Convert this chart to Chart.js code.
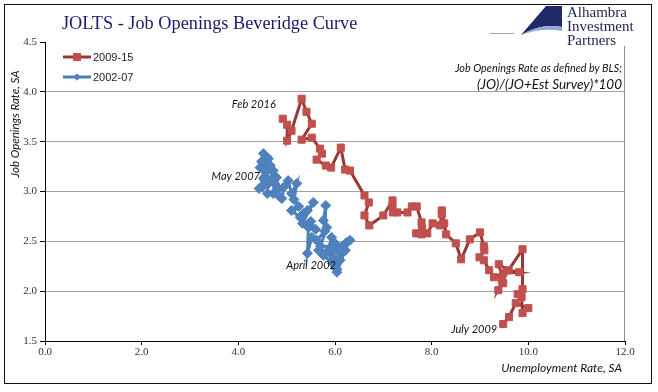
<!DOCTYPE html>
<html>
<head>
<meta charset="utf-8">
<script src="https://cdn.jsdelivr.net/npm/chart.js@4.4.1/dist/chart.umd.min.js"></script>
<style>
  html, body { margin: 0; padding: 0; background: #fff; }
  #wrap { position: relative; width: 658px; height: 392px; background: #fff; overflow: hidden; }
  #c { position: absolute; left: 0; top: 0; }
  .ov { position: absolute; white-space: nowrap; pointer-events: none; }
  #title { left: 62px; top: 11px; font-family: "Liberation Serif", serif; font-size: 18.3px; color: #1a1a6e; line-height: 24px; }
  #logoText { left: 567px; top: 5px; font-family: "Liberation Serif", serif; font-size: 15px; line-height: 14px; color: #1b2450; }
  #note1 { right: 36px; top: 61px; font-family: Lato, sans-serif; font-style: italic; font-size: 10.8px; color: #111; }
  #note2 { right: 36px; top: 76px; font-family: Lato, sans-serif; font-style: italic; font-size: 13.5px; color: #111; }
  #xTitle { right: 36px; top: 360px; font-family: Lato, sans-serif; font-style: italic; font-size: 12px; color: #111; }
  #yTitle { left: 14px; top: 124px; font-family: Lato, sans-serif; font-style: italic; font-size: 11.5px; color: #111; transform: translate(-50%, -50%) rotate(-90deg); }
  #frame { position: absolute; left: 4px; top: 4px; width: 646px; height: 378px; border: 1px solid #111; pointer-events: none; }
</style>
</head>
<body>
<div id="wrap">
  <canvas id="c" width="658" height="392"></canvas>
  <div class="ov" id="title">JOLTS - Job Openings Beveridge Curve</div>
  <svg class="ov" style="left:0;top:0" width="658" height="60">
    <line x1="490" y1="33.5" x2="514" y2="33.5" stroke="#a6a6a6" stroke-width="1"/>
    <rect x="514" y="4" width="50" height="42" fill="#fff"/>
    <path d="M546 6 L562 6 L562 27 Q541 23 521 35 Z" fill="#1f2a66"/>
    <path d="M521 35 Q541 23 562 27 L562 31 Q542 27 521 35 Z" fill="#8fa7d6"/>
  </svg>
  <div class="ov" id="logoText">Alhambra<br>Investment<br>Partners</div>
  <div class="ov" id="note1">Job Openings Rate as defined by BLS;</div>
  <div class="ov" id="note2">(JO)/(JO+Est Survey)*100</div>
  <div class="ov" id="xTitle">Unemployment Rate, SA</div>
  <div class="ov" id="yTitle">Job Openings Rate, SA</div>
  <div id="frame"></div>
</div>
<script>
// ---- Data ----
const seriesNames = ["2009-15", "2002-07"];

// 2009-15 (July 2009 -> Feb 2016): unemployment rate, job openings rate
const recoveryX = [9.48,9.60,9.74,10.00,9.88,9.86,9.78,9.88,9.88,9.45,9.38,9.48,9.39,9.59,9.81,9.48,9.29,9.19,9.08,8.99,9.09,9.08,9.00,8.79,8.61,8.50,8.30,8.26,8.21,8.21,8.17,8.02,7.91,7.79,7.68,7.80,7.79,7.69,7.59,7.50,7.29,7.20,7.19,7.19,7.00,6.71,6.61,6.70,6.61,6.31,6.21,6.12,5.92,5.81,5.62,5.73,5.69,5.52,5.31,5.52,5.41,5.31,5.10,5.01,5.01,4.92];
const recoveryY = [1.67,1.74,1.88,1.83,1.78,1.94,1.97,2.02,2.42,2.11,2.01,2.08,2.27,2.21,2.19,2.18,2.14,2.21,2.31,2.34,2.41,2.45,2.59,2.52,2.32,2.48,2.57,2.68,2.81,2.77,2.66,2.68,2.58,2.57,2.58,2.63,2.69,2.85,2.85,2.79,2.79,2.79,2.85,2.91,2.76,2.66,2.76,2.89,2.96,3.21,3.22,3.44,3.24,3.26,3.32,3.38,3.43,3.54,3.52,3.68,3.80,3.93,3.61,3.51,3.67,3.73];

// 2002-07 (April 2002 -> May 2007)
const expansionX = [6.04,5.97,5.90,6.10,5.95,5.76,5.66,5.85,5.93,6.00,6.21,6.04,6.10,6.05,6.24,6.31,6.21,6.15,6.10,5.97,5.70,5.83,5.76,5.81,5.79,5.62,5.52,5.43,5.45,5.60,5.50,5.33,5.55,5.43,5.35,5.28,5.10,5.25,5.15,5.21,5.10,5.03,4.95,4.90,4.85,4.83,4.79,4.75,4.72,4.60,4.62,4.72,4.68,4.52,4.50,4.43,4.58,4.66,4.55,4.62,4.48,4.52,4.45,4.55];
const expansionY = [2.22,2.33,2.38,2.31,2.28,2.36,2.41,2.40,2.54,2.48,2.41,2.19,2.31,2.42,2.49,2.51,2.41,2.45,2.38,2.45,2.45,2.64,2.71,2.86,2.60,2.51,2.54,2.38,2.64,2.62,2.70,2.68,2.89,2.81,2.78,2.74,2.81,2.85,2.92,3.08,2.98,3.11,3.05,2.93,2.95,3.03,3.14,3.08,2.98,2.98,3.08,3.21,3.12,3.13,3.05,3.03,3.20,3.26,3.28,3.33,3.30,3.38,3.24,3.15];

const xTicks = [0, 2, 4, 6, 8, 10, 12];
const yTicks = [1.5, 2.0, 2.5, 3.0, 3.5, 4.0, 4.5];

// point annotations: [series index, point index, text]
const pointLabels = [
  [0, recoveryX.length - 1, "Feb 2016"],
  [0, 0, "July 2009"],
  [1, expansionX.length - 1, "May 2007"],
  [1, 0, "April 2002"]
];
const labelOffsets = [[-7, -14], [-6, 5], [-5, 0], [-1, -4]];

const toPts = (xs, ys) => xs.map((x, i) => ({ x: x, y: ys[i] }));

const RED_LINE = "#993735", RED_MARK = "#C0504D";
const BLUE_LINE = "#4A7EBB", BLUE_MARK = "#4F81BD";

const overlay = {
  id: "overlay",
  afterDraw(chart) {
    const ctx = chart.ctx, ca = chart.chartArea;
    const xs = chart.scales.x, ys = chart.scales.y;
    ctx.save();
    ctx.strokeStyle = "#8c8c8c";
    ctx.lineWidth = 1;
    ctx.beginPath();
    ctx.moveTo(Math.round(ca.right) - 0.5, 46);
    ctx.lineTo(Math.round(ca.right) - 0.5, ca.bottom);
    ctx.stroke();

    const items = [
      { y: 57, line: RED_LINE, mark: RED_MARK, shape: "rect", r: 5 },
      { y: 77, line: BLUE_LINE, mark: BLUE_MARK, shape: "rectRot", r: 3.2 }
    ];
    items.forEach((it, i) => {
      ctx.strokeStyle = it.line;
      ctx.lineWidth = 3;
      ctx.beginPath();
      ctx.moveTo(63, it.y); ctx.lineTo(91, it.y);
      ctx.stroke();
      ctx.fillStyle = it.mark;
      ctx.strokeStyle = it.mark;
      ctx.lineWidth = 1;
      Chart.helpers.drawPoint(ctx, { pointStyle: it.shape, radius: it.r, borderWidth: 1, rotation: 0 }, 77, it.y);
      ctx.fillStyle = "#222";
      ctx.font = "11px 'Liberation Sans', Arial, sans-serif";
      ctx.textBaseline = "middle";
      ctx.textAlign = "left";
      ctx.fillText(seriesNames[i], 93, it.y + 0.5);
    });

    ctx.font = "italic 11px Lato, sans-serif";
    ctx.fillStyle = "#111";
    ctx.textAlign = "right";
    ctx.textBaseline = "middle";
    pointLabels.forEach((pl, k) => {
      const xsrc = pl[0] === 0 ? recoveryX : expansionX;
      const ysrc = pl[0] === 0 ? recoveryY : expansionY;
      const px = xs.getPixelForValue(xsrc[pl[1]]);
      const py = ys.getPixelForValue(ysrc[pl[1]]);
      ctx.fillText(pl[2], px + labelOffsets[k][0], py + labelOffsets[k][1]);
    });
    ctx.restore();
  }
};

const bg = {
  id: "bg",
  beforeDraw(chart) {
    const ctx = chart.ctx;
    ctx.save();
    ctx.fillStyle = "#fff";
    ctx.fillRect(0, 0, chart.width, chart.height);
    ctx.restore();
  }
};

new Chart(document.getElementById("c"), {
  type: "scatter",
  data: {
    datasets: [
      {
        label: seriesNames[0],
        data: toPts(recoveryX, recoveryY),
        showLine: true,
        borderColor: RED_LINE,
        borderWidth: 3,
        pointStyle: "rect",
        pointRadius: 5,
        pointBackgroundColor: RED_MARK,
        pointBorderColor: RED_MARK,
        pointBorderWidth: 1,
        tension: 0,
        order: 1
      },
      {
        label: seriesNames[1],
        data: toPts(expansionX, expansionY),
        showLine: true,
        borderColor: BLUE_LINE,
        borderWidth: 3,
        pointStyle: "rectRot",
        pointRadius: 5,
        pointBackgroundColor: BLUE_MARK,
        pointBorderColor: BLUE_MARK,
        pointBorderWidth: 1,
        tension: 0,
        order: 2
      }
    ]
  },
  options: {
    responsive: false,
    animation: false,
    devicePixelRatio: 1,
    layout: { padding: { left: 0, top: 42, right: 33, bottom: 0 } },
    plugins: { legend: { display: false }, tooltip: { enabled: false }, title: { display: false } },
    scales: {
      x: {
        type: "linear",
        min: 0, max: 12,
        afterBuildTicks: s => { s.ticks = xTicks.map(v => ({ value: v })); },
        ticks: {
          callback: v => Number(v).toFixed(1),
          font: { family: "'Liberation Serif', serif", size: 11 },
          color: "#333",
          padding: 1,
          maxRotation: 0
        },
        grid: { drawOnChartArea: false, drawTicks: true, tickLength: 4, tickColor: "#000" },
        border: { display: true, color: "#000", width: 1 },
        afterFit: s => { s.height = 51; }
      },
      y: {
        type: "linear",
        min: 1.5, max: 4.5,
        afterBuildTicks: s => { s.ticks = yTicks.map(v => ({ value: v })); },
        ticks: {
          callback: v => Number(v).toFixed(1),
          font: { family: "'Liberation Serif', serif", size: 11 },
          color: "#333",
          padding: 3
        },
        grid: {
          color: ctx => (ctx.tick && (ctx.tick.value === 4.5 || ctx.tick.value === 1.5)) ? "rgba(0,0,0,0)" : "#a0a0a0",
          borderDash: [3, 3],
          lineWidth: 1,
          drawTicks: true,
          tickLength: 5,
          tickColor: "#000",
          tickBorderDash: []
        },
        border: { display: true, color: "#000", width: 1 },
        afterFit: s => { s.width = 45; }
      }
    }
  },
  plugins: [bg, overlay]
});
</script>
</body>
</html>
